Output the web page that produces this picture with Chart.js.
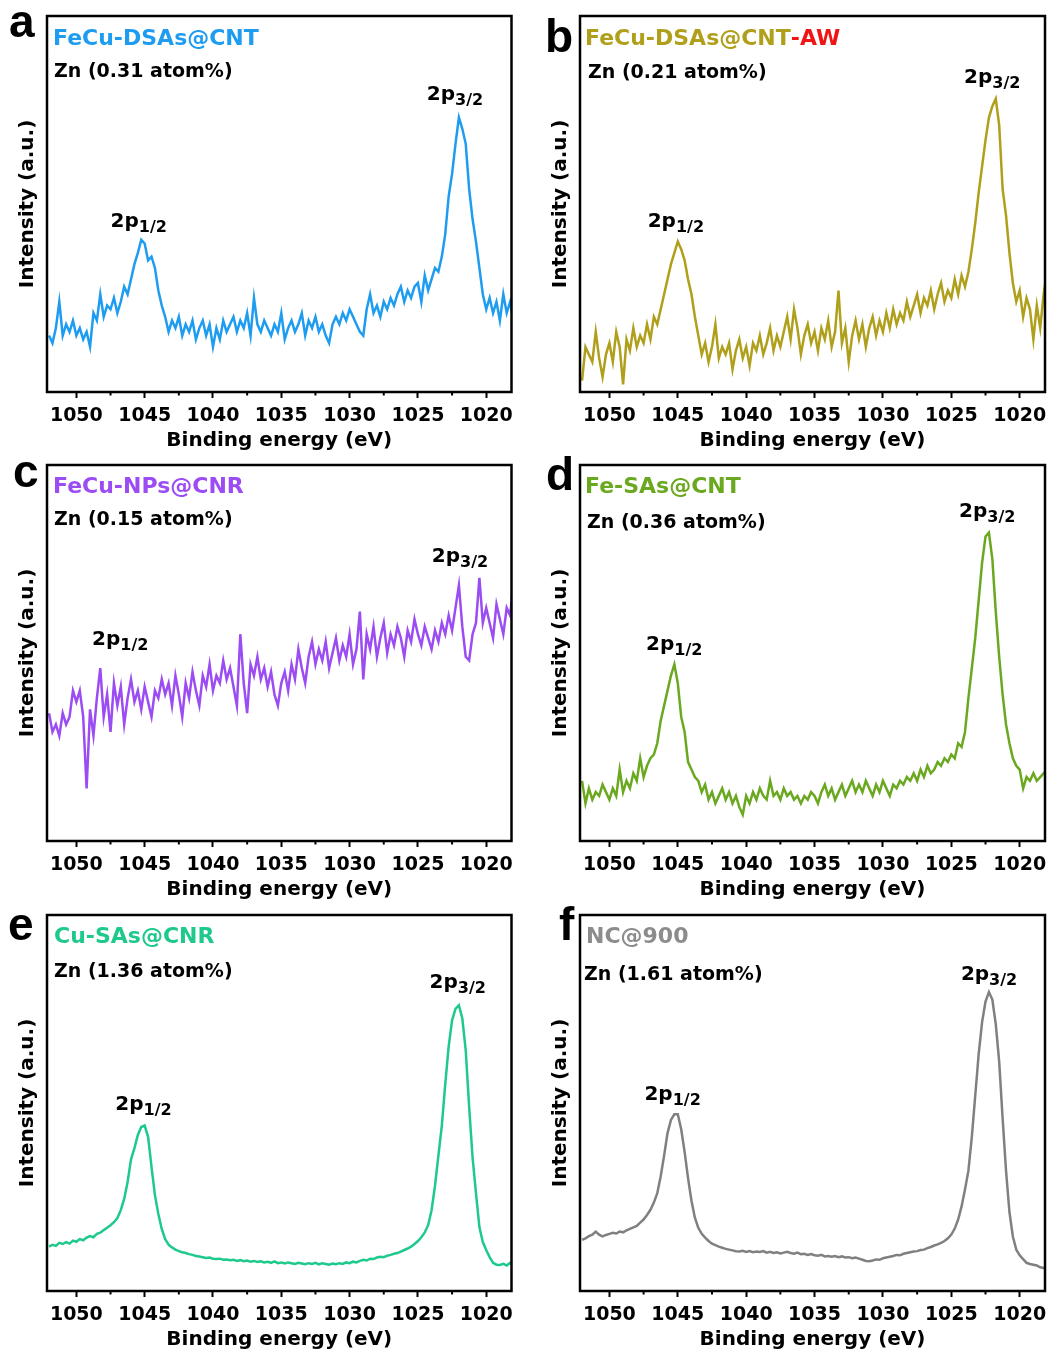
<!DOCTYPE html>
<html>
<head>
<meta charset="utf-8">
<title>Zn 2p XPS</title>
<script src="https://cdn.jsdelivr.net/npm/chart.js@4.4.1/dist/chart.umd.min.js"></script>
<style>
  html, body { margin: 0; padding: 0; background: #fff; overflow: hidden; }
  #wrap { position: relative; width: 1050px; height: 1356px; }
  canvas { position: absolute; }
</style>
</head>
<body>
<div id="wrap">
  <canvas id="chartA" width="525" height="460" style="left:0;top:0"></canvas>
  <canvas id="chartB" width="517" height="460" style="left:533px;top:0"></canvas>
  <canvas id="chartC" width="525" height="460" style="left:0;top:449px"></canvas>
  <canvas id="chartD" width="517" height="460" style="left:533px;top:449px"></canvas>
  <canvas id="chartE" width="525" height="460" style="left:0;top:899px"></canvas>
  <canvas id="chartF" width="517" height="460" style="left:533px;top:899px"></canvas>
</div>
<script>
// Binding energy grid, 1052 -> 1018 eV in 0.25 eV steps
const energyStart = 1052;
const energyStep = 0.25;
const energies = Array.from({ length: 137 }, (_, i) => energyStart - i * energyStep);

const xTickValues = [1050, 1045, 1040, 1035, 1030, 1025, 1020];
const xMinorTicks = [1047.5, 1042.5, 1037.5, 1032.5, 1027.5, 1022.5];

// Intensities (a.u., 0-100 of the frame height)
const feCuDsasCnt = [
  15, 13, 17, 24, 15, 18, 16, 19,
  15, 17, 14, 16, 12, 21, 19, 26,
  20, 23, 22, 25, 21, 24, 28, 26,
  30, 34, 37, 40.5, 39.5, 35, 36, 33,
  27, 23, 20, 16, 19, 17, 20, 15,
  18, 16, 19, 14, 17, 19, 15, 18,
  12, 17, 14, 19, 16, 18, 20, 16,
  19, 17, 21, 15, 25, 18, 16, 19,
  17, 15, 18, 16, 21, 14, 17, 19,
  16, 18, 21, 15, 19, 17, 20, 16,
  18, 15, 13, 18, 20, 18, 21, 19,
  22, 20, 18, 16, 15, 22, 26, 21,
  23, 20, 24, 22, 25, 23, 26, 28,
  24, 27, 25, 28, 29, 24, 31, 27,
  30, 33, 32, 36, 42, 52, 58, 66,
  73, 70, 66, 54, 46, 40, 33, 26,
  22, 25, 21, 24, 19, 26, 21, 24,
  19
];
const feCuDsasCntAw = [
  3, 12, 10, 8, 16, 9, 4, 10,
  13, 8, 16, 12, 2, 14, 11, 17,
  12, 15, 13, 18, 14, 20, 18, 22,
  26, 30, 34, 37, 40, 38, 35, 30,
  26, 20, 15, 10, 13, 8, 12, 18,
  9, 12, 10, 13, 6, 11, 14, 9,
  12, 7, 13, 11, 15, 10, 13, 17,
  11, 15, 12, 16, 20, 14, 22, 17,
  10, 15, 18, 13, 16, 11, 17, 14,
  19, 12, 16, 27, 13, 17, 8, 15,
  19, 14, 18, 12, 17, 20, 15, 19,
  16, 21, 17, 22, 18, 21, 19, 24,
  20, 23, 26, 21, 25, 23, 27, 22,
  26, 29, 24, 27, 25, 30, 26, 31,
  28, 32, 38, 45, 53, 60, 67, 73,
  76, 78, 71, 54, 47, 37, 29, 24,
  27, 20, 25, 22, 14, 23, 17, 26,
  32
];
const feCuNpsCnr = [
  34, 29, 31, 28, 34, 31, 33, 40,
  37, 40, 33, 14, 35, 28, 38, 46,
  33, 39, 29, 42, 36, 41, 31, 38,
  43, 37, 40, 35, 41, 37, 33, 40,
  38, 43, 39, 42, 36, 44, 39, 33,
  42, 38, 45, 40, 36, 44, 41, 47,
  40, 44, 42, 48, 43, 46, 41, 36,
  55, 42, 34, 47, 44, 49, 43, 46,
  41, 45, 39, 36, 42, 45, 40, 47,
  43, 51, 46, 42, 49, 53, 47, 51,
  48, 53, 46, 50, 54, 48, 52, 49,
  55, 47, 51, 61, 43, 55, 51, 57,
  49, 54, 58, 50, 55, 52, 57, 54,
  49, 56, 53, 59, 55, 52, 57, 54,
  51, 56, 53, 58, 55, 60, 56, 62,
  68, 57, 49, 48, 55, 58, 70, 58,
  62, 58, 54, 63, 59, 55, 62, 60,
  69
];
const feSasCnt = [
  16, 10, 14, 11, 13, 12, 15, 13,
  11, 14, 12, 19, 13, 16, 14, 18,
  16, 22, 17, 20, 22, 23, 26, 32,
  36, 40, 44, 47, 42, 33, 29, 21,
  19, 17, 16, 13, 15, 11, 13, 10,
  12, 14, 11, 13, 10, 12, 9, 7,
  12, 10, 13, 11, 14, 12, 11, 16,
  12, 13, 11, 14, 12, 13, 11, 12,
  10, 12, 11, 13, 12, 10, 13, 15,
  12, 14, 11, 13, 15, 12, 14, 16,
  13, 15, 13, 16, 14, 12, 15, 13,
  16, 14, 12, 15, 14, 16, 15, 17,
  16, 18, 16, 19, 17, 20, 18, 19,
  21, 20, 22, 21, 23, 22, 26, 25,
  29, 38, 46, 54, 64, 74, 81, 82,
  75, 61, 49, 39, 31, 26, 22, 20,
  19, 14, 17, 16, 18, 16, 17, 18,
  19
];
const cuSasCnr = [
  11.8, 12.3, 12.0, 12.8, 12.5, 13.0, 12.6, 13.4,
  13.1, 13.8, 13.5, 14.2, 14.6, 14.3, 15.2, 15.5,
  16.2, 16.8, 17.5, 18.3, 19.4, 21.5, 24.5, 29.0,
  35.0, 38.0, 41.5, 43.6, 44.0, 41.0, 33.0, 25.5,
  20.5, 16.5, 13.8, 12.3, 11.6, 11.0, 10.6, 10.3,
  10.1, 9.8, 9.6, 9.3, 9.2, 9.0, 8.8, 8.9,
  8.6, 8.5, 8.6, 8.3, 8.4, 8.2, 8.3, 8.0,
  8.2, 7.9, 8.1, 7.8, 8.0, 7.7, 7.9, 7.6,
  7.8, 7.5, 7.9, 7.4, 7.6, 7.3, 7.6, 7.4,
  7.2, 7.5, 7.3, 7.1, 7.4, 7.2, 7.5, 7.1,
  7.4, 7.2, 7.0, 7.3, 7.1, 7.4, 7.2, 7.6,
  7.4, 7.8, 7.6, 8.0, 8.3, 8.1, 8.6, 8.5,
  8.9, 9.1, 9.0, 9.4, 9.6, 9.9, 10.1, 10.5,
  10.9, 11.3, 11.8, 12.5, 13.3, 14.3, 15.6, 17.5,
  21.5, 28.0, 36.0, 44.0, 55.0, 65.0, 72.0, 75.0,
  76.0, 72.5, 64.0, 49.0, 35.5, 26.0, 17.0, 13.0,
  10.9, 9.0, 7.5, 7.0, 6.9, 7.2, 6.8, 7.5,
  6.9
];
const nc900 = [
  13.6, 14.0, 14.6, 15.0, 15.8, 15.0, 14.5, 14.9,
  15.2, 15.5, 15.3, 15.8, 15.6, 16.1, 16.5, 16.9,
  17.3, 18.2, 19.0, 20.2, 21.6, 23.5, 26.0, 30.5,
  36.0, 42.0, 45.5, 47.0, 47.0, 43.0, 37.0, 30.0,
  24.0, 19.5, 16.8, 15.2, 14.2, 13.3, 12.6, 12.2,
  11.8, 11.5, 11.2, 11.0, 10.8, 10.6, 10.5, 10.7,
  10.4, 10.6, 10.3, 10.5, 10.4, 10.6, 10.2, 10.4,
  10.1, 10.3, 10.0, 10.2, 10.4, 10.1, 9.9, 10.2,
  9.8, 9.9, 9.6, 9.8, 9.5, 9.4, 9.6, 9.2,
  9.3, 9.1, 9.3, 9.0, 9.2, 8.9, 9.0, 8.7,
  8.9, 8.6, 8.3, 8.0, 7.9, 8.1, 8.4, 8.3,
  8.7, 8.9, 9.1, 9.3, 9.6, 9.5, 9.9, 10.1,
  10.3, 10.5, 10.6, 10.9, 11.0, 11.4, 11.7, 12.1,
  12.4, 12.8, 13.3, 14.0, 15.0, 16.6, 19.0, 22.5,
  27.0, 32.0, 41.0, 52.0, 63.0, 71.5, 77.0, 79.5,
  77.5, 71.0, 61.0, 46.0, 32.0, 21.0, 14.5, 11.0,
  9.5, 8.5, 7.5, 7.2, 7.0, 6.8, 6.3, 6.1,
  6.0
];

const panels = [
  {
    id: 'chartA', padRight: 13.5, color: '#1e9cf0', values: feCuDsasCnt,
    letter: 'a', letterPos: [-38, 21],
    name: [['FeCu-DSAs@CNT', '#1e9cf0']], namePos: [6, 29],
    zn: 'Zn (0.31 atom%)', znPos: [7, 61],
    peaks: [{ sub: '3/2', energy: 1024.35, level: 77.7 }, { sub: '1/2', energy: 1047.5, level: 44 }]
  },
  {
    id: 'chartB', padRight: 5, color: '#af9f1a', values: feCuDsasCntAw,
    letter: 'b', letterPos: [-35, 36],
    name: [['FeCu-DSAs@CNT', '#af9f1a'], ['-AW', '#f01414']], namePos: [5, 29],
    zn: 'Zn (0.21 atom%)', znPos: [8, 62],
    peaks: [{ sub: '3/2', energy: 1024.07, level: 82.1 }, { sub: '1/2', energy: 1047.2, level: 44 }]
  },
  {
    id: 'chartC', padRight: 13.5, color: '#9b4cf2', values: feCuNpsCnr,
    letter: 'c', letterPos: [-34, 22],
    name: [['FeCu-NPs@CNR', '#9b4cf2']], namePos: [6, 28],
    zn: 'Zn (0.15 atom%)', znPos: [7, 60],
    peaks: [{ sub: '3/2', energy: 1023.98, level: 74.3 }, { sub: '1/2', energy: 1048.85, level: 52.1 }]
  },
  {
    id: 'chartD', padRight: 5, color: '#6aa820', values: feSasCnt,
    letter: 'd', letterPos: [-34, 25],
    name: [['Fe-SAs@CNT', '#6aa820']], namePos: [5, 28],
    zn: 'Zn (0.36 atom%)', znPos: [7, 63],
    peaks: [{ sub: '3/2', energy: 1024.43, level: 86.2 }, { sub: '1/2', energy: 1047.32, level: 50.8 }]
  },
  {
    id: 'chartE', padRight: 13.5, color: '#1ec98c', values: cuSasCnr,
    letter: 'e', letterPos: [-39, 25],
    name: [['Cu-SAs@CNR', '#1ec98c']], namePos: [7, 28],
    zn: 'Zn (1.36 atom%)', znPos: [7, 62],
    peaks: [{ sub: '3/2', energy: 1024.15, level: 80.5 }, { sub: '1/2', energy: 1047.15, level: 48.1 }]
  },
  {
    id: 'chartF', padRight: 5, color: '#808080', values: nc900,
    letter: 'f', letterPos: [-21, 25],
    name: [['NC@900', '#8c8c8c']], namePos: [6, 28],
    zn: 'Zn (1.61 atom%)', znPos: [4, 65],
    peaks: [{ sub: '3/2', energy: 1024.3, level: 82.7 }, { sub: '1/2', energy: 1047.44, level: 50.8 }]
  }
];

Chart.defaults.font.family = '"DejaVu Sans"';
Chart.defaults.color = '#000';

function decorPlugin(p) {
  return {
    id: 'decor',
    afterDatasetsDraw(chart) {
      const { ctx, chartArea } = chart;
      const xs = chart.scales.x;
      ctx.save();
      ctx.strokeStyle = '#000';
      ctx.lineWidth = 2.5;
      ctx.strokeRect(chartArea.left, chartArea.top, chartArea.right - chartArea.left, chartArea.bottom - chartArea.top);
      // minor ticks
      ctx.lineWidth = 2;
      xMinorTicks.forEach(v => {
        const px = xs.getPixelForValue(v);
        ctx.beginPath();
        ctx.moveTo(px, chartArea.bottom);
        ctx.lineTo(px, chartArea.bottom + 3.5);
        ctx.stroke();
      });
      ctx.restore();
    },
    afterDraw(chart) {
      const { ctx, chartArea } = chart;
      const xs = chart.scales.x;
      const ys = chart.scales.y;
      const left = chartArea.left, top = chartArea.top;
      ctx.save();
      ctx.textAlign = 'left';
      ctx.textBaseline = 'alphabetic';

      ctx.fillStyle = '#000';
      ctx.font = 'bold 46px "Liberation Sans"';
      ctx.fillText(p.letter, left + p.letterPos[0], top + p.letterPos[1]);

      ctx.font = 'bold 22px "DejaVu Sans"';
      let x = left + p.namePos[0];
      p.name.forEach(([txt, col]) => {
        ctx.fillStyle = col;
        ctx.fillText(txt, x, top + p.namePos[1]);
        x += ctx.measureText(txt).width;
      });

      ctx.fillStyle = '#000';
      ctx.font = 'bold 19px "DejaVu Sans"';
      ctx.fillText(p.zn, left + p.znPos[0], top + p.znPos[1]);

      p.peaks.forEach(pk => {
        const px = xs.getPixelForValue(pk.energy);
        const py = ys.getPixelForValue(pk.level);
        ctx.font = 'bold 20px "DejaVu Sans"';
        ctx.fillText('2p', px, py);
        const w = ctx.measureText('2p').width;
        ctx.font = 'bold 16px "DejaVu Sans"';
        ctx.fillText(pk.sub, px + w, py + 5);
      });
      ctx.restore();
    }
  };
}

function makePanel(p) {
  const ctx = document.getElementById(p.id).getContext('2d');
  return new Chart(ctx, {
    type: 'line',
    data: {
      datasets: [{
        data: energies.map((e, i) => ({ x: e, y: p.values[i] })),
        borderColor: p.color,
        borderWidth: 2.5,
        pointRadius: 0,
        tension: 0,
        fill: false
      }]
    },
    options: {
      responsive: false,
      animation: false,
      events: [],
      layout: { padding: { left: 0, top: 16, right: p.padRight, bottom: 0 } },
      plugins: { legend: { display: false }, tooltip: { enabled: false } },
      scales: {
        x: {
          type: 'linear',
          reverse: true,
          min: 1018.15,
          max: 1052.15,
          afterFit: s => { s.height = 68; s.paddingLeft = 0; s.paddingRight = 0; },
          afterBuildTicks: s => { s.ticks = xTickValues.map(v => ({ value: v })); },
          border: { display: false },
          grid: { display: true, drawOnChartArea: false, drawTicks: true, tickLength: 6, tickWidth: 2, tickColor: '#000' },
          ticks: {
            color: '#000', font: { size: 19, weight: 'bold' }, padding: 7, maxRotation: 0, autoSkip: false,
            callback: v => String(v)
          },
          title: { display: true, text: 'Binding energy (eV)', color: '#000', font: { size: 20, weight: 'bold' }, padding: { top: 0, bottom: 7 } }
        },
        y: {
          min: 0,
          max: 100,
          afterFit: s => { s.width = 47; s.paddingTop = 0; s.paddingBottom = 0; },
          border: { display: false },
          grid: { display: false },
          ticks: { display: false },
          title: { display: true, text: 'Intensity (a.u.)', color: '#000', font: { size: 20, weight: 'bold' }, padding: { top: 16, bottom: 0 } }
        }
      }
    },
    plugins: [decorPlugin(p)]
  });
}

panels.forEach(makePanel);
</script>
</body>
</html>
